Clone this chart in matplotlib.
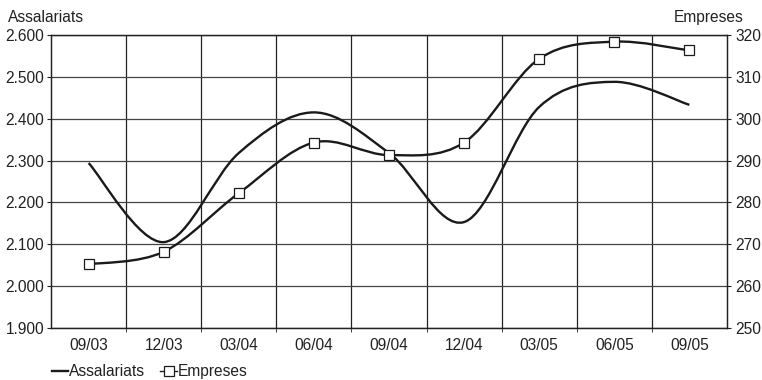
import matplotlib.pyplot as plt
import numpy as np
from matplotlib.path import Path
from matplotlib.patches import PathPatch
from matplotlib.lines import Line2D

plt.rcParams['font.family'] = ['Liberation Sans', 'DejaVu Sans']
plt.rcParams['font.size'] = 11.2

periods = ['09/03', '12/03', '03/04', '06/04', '09/04', '12/04', '03/05', '06/05', '09/05']
assalariats = [2294, 2105, 2318, 2415, 2318, 2153, 2428, 2488, 2433]
empreses = [265.2, 268.2, 282.2, 294.3, 291.3, 294.3, 314.3, 318.4, 316.3]


def smooth_path(x, y):
    # Catmull-Rom style smoothing drawn as cubic Bezier segments
    pts = np.column_stack([x, y]).astype(float)
    ext = np.vstack([pts[0], pts, pts[-1]])
    verts = [pts[0]]
    codes = [Path.MOVETO]
    for i in range(len(pts) - 1):
        p0, p1, p2, p3 = ext[i], ext[i + 1], ext[i + 2], ext[i + 3]
        verts += [p1 + (p2 - p0) / 6, p2 - (p3 - p1) / 6, p2]
        codes += [Path.CURVE4] * 3
    return Path(verts, codes)


ink = '#222222'
fig = plt.figure(figsize=(7.62, 3.80), dpi=100)
ax = fig.add_axes([0.067, 0.137, 0.887, 0.771])
ax2 = ax.twinx()

x = np.arange(len(periods))
ax.set_xlim(-0.5, len(periods) - 0.5)
ax.set_ylim(1900, 2600)
ax2.set_ylim(250, 320)

ax.set_yticks(np.arange(1900, 2601, 100))
ax.set_yticklabels(['{:,}'.format(v).replace(',', '.') for v in range(1900, 2601, 100)])
ax2.set_yticks(np.arange(250, 321, 10))
ax.set_xticks(x)
ax.set_xticklabels(periods)
ax.set_xticks(np.arange(0.5, len(periods) - 1, 1), minor=True)

ax.grid(True, axis='y', color='#444444', lw=0.9)
ax.grid(True, axis='x', which='minor', color='#222222', lw=0.9)
ax.tick_params(axis='x', which='major', length=0, pad=7, colors=ink)
ax.tick_params(axis='x', which='minor', length=3, color='#222222')
ax.tick_params(axis='y', length=3, pad=2, colors=ink)
ax2.tick_params(axis='y', length=3, pad=3, colors=ink)
for a in (ax, ax2):
    for s in a.spines.values():
        s.set_color('#222222')
        s.set_linewidth(0.9)
ax.set_axisbelow(True)

ax.add_patch(PathPatch(smooth_path(x, assalariats), fill=False, ec='#1a1a1a', lw=1.7, zorder=3))
ax2.add_patch(PathPatch(smooth_path(x, empreses), fill=False, ec='#1a1a1a', lw=1.7, zorder=3))
ax2.plot(x, empreses, ls='none', marker='s', ms=6.5, mfc='white', mec='#1a1a1a', mew=0.9, zorder=4)

fig.text(0.011, 0.955, 'Assalariats', ha='left', va='center', color=ink)
fig.text(0.976, 0.955, 'Empreses', ha='right', va='center', color=ink)

handles = [Line2D([], [], color='#1a1a1a', lw=1.7),
           Line2D([], [], color='#1a1a1a', lw=1.0, marker='s', ms=6.5, mfc='white', mew=0.9)]
fig.legend(handles, ['Assalariats', 'Empreses'], loc='center left', bbox_to_anchor=(0.068, 0.022),
           ncol=2, frameon=False, handlelength=1.05, handletextpad=0.05, columnspacing=1.0,
           borderpad=0, borderaxespad=0, labelcolor=ink)

fig.savefig('out.png', dpi=100)
